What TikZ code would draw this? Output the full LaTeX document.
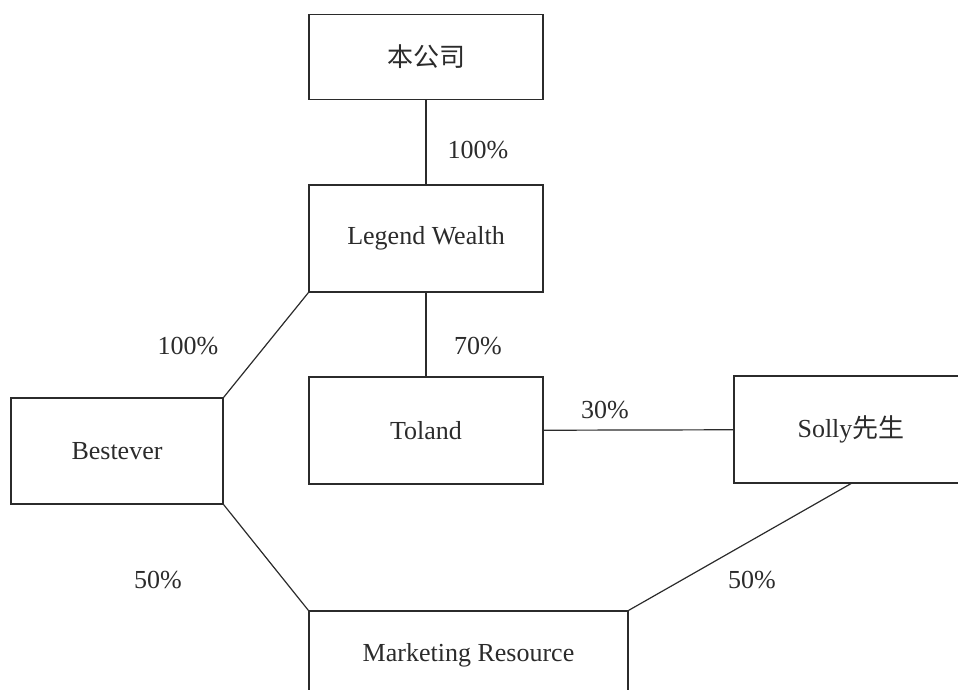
\documentclass[tikz,border=0pt]{standalone}
\usepackage{fontspec}
\setmainfont{Liberation Serif}
\newfontfamily\cjk{Noto Sans CJK SC}
\usepackage{tikz}
\usetikzlibrary{positioning}
\definecolor{ink}{HTML}{2b2b2b}

\begin{document}
\begin{tikzpicture}[
        x=0.5pt, y=-0.5pt,
        line width=0.6pt, draw=ink,
        every node/.style={font=\fontsize{13}{15}\selectfont, text=ink},
        firm/.style={rectangle,draw=ink,line width=0.6pt,minimum width=117pt,minimum height=53.5pt,inner sep=0pt},
        pct/.style={inner sep=0pt}
    ]
    \useasboundingbox (0,0) rectangle (958,690);
    \clip (0,0) rectangle (958,690);
    \node[firm,minimum height=42.5pt] (Top) at (426,57) {\cjk 本公司};
    \node[firm] (Legend) at (426,238.5) {Legend Wealth};
    \node[firm] (Toland) at (426,430.5) {Toland};
    \node[firm] (Solly) at (851,429.5) {Solly{\cjk 先生}};
    \node[firm,minimum width=106pt,minimum height=53pt] (Best) at (117,451) {Bestever};
    \node[firm,minimum width=159.5pt,minimum height=44pt] (Market) at (468.5,655) {Marketing Resource};
    \draw (Top) -- (Legend);
    \draw (Legend) -- (Toland);
    \draw (Toland) -- (Solly);
    \draw (Best.north east) -- (Legend.south west);
    \draw (Best.south east) -- (Market.north west);
    \draw (Market.north east) -- (Solly.south);
    % shareholdings
    \node[pct] (p1) at (478,150) {100\%};
    \node[pct] (p2) at (478,346) {70\%};
    \node[pct] (p3) at (605,410) {30\%};
    \node[pct] (p4) at (188,346) {100\%};
    \node[pct] (p5) at (158,580) {50\%};
    \node[pct] (p6) at (752,580) {50\%};
\end{tikzpicture}
\end{document}
